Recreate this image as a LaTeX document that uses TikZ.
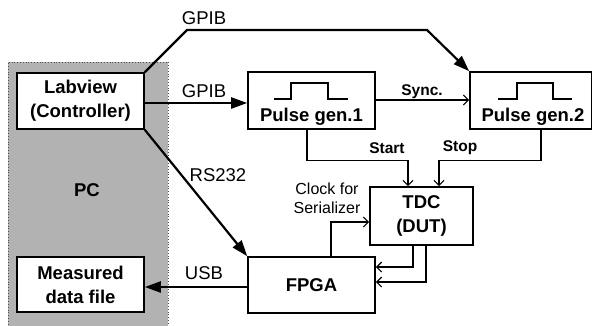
\documentclass[tikz,border=0pt]{standalone}
\usepackage{fontspec}
\setmainfont{Liberation Sans}
\usetikzlibrary{arrows.meta,calc}
\begin{document}
\begin{tikzpicture}[x=1pt,y=-1pt,
  box/.style={draw=black,line width=1.6pt,fill=white,rectangle,inner sep=0pt,align=center,
    font=\bfseries\fontsize{18.5}{24}\selectfont},
  thickarrow/.style={line width=2.2pt,-{Triangle[length=16pt,width=11pt]}},
  thinarrow/.style={line width=1.2pt,-{Straight Barb[length=5pt,width=10pt,line width=1.2pt]}},
  biglbl/.style={font=\fontsize{18.5}{22}\selectfont,inner sep=0pt},
  smalllbl/.style={font=\bfseries\fontsize{15.5}{19}\selectfont,inner sep=0pt},
  pulse/.style={line width=1.6pt},
]
\useasboundingbox (0,0) rectangle (593,325);
% PC area
\node[draw=black!70,dotted,line width=0.8pt,fill=black!30,rectangle,inner sep=0pt,
  minimum width=160pt,minimum height=264pt] (pc) at (88,194) {};
\node[font=\bfseries\fontsize{18.5}{22}\selectfont,inner sep=0pt] (pclbl) at (87,190) {PC};
% boxes
\node[box,minimum width=127pt,minimum height=56pt] (lab) at (80.5,101) {Labview\\(Controller)};
\node[box,minimum width=127pt,minimum height=55pt] (meas) at (80.5,284.5) {Measured\\data file};
\node[box,minimum width=127pt,minimum height=57pt] (pg1) at (311.5,100.5) {};
\node[box,minimum width=121.5pt,minimum height=57pt] (pg2) at (530.75,100.5) {};
\node[box,minimum width=103pt,minimum height=58pt] (tdc) at (421.5,216) {TDC\\(DUT)};
\node[box,minimum width=127pt,minimum height=56pt] (fpga) at (311.5,285) {FPGA};
% pulse gen texts and icons
\node[font=\bfseries\fontsize{18.5}{22}\selectfont,inner sep=0pt] (pg1t) at (311.5,117) {Pulse gen.1};
\node[font=\bfseries\fontsize{18.5}{22}\selectfont,inner sep=0pt] (pg2t) at (533,117) {Pulse gen.2};
\draw[pulse] (274,99) -- (291,99) -- (291,83) -- (328,83) -- (328,99) -- (348,99);
\draw[pulse] (498,99) -- (517,99) -- (517,83) -- (553,83) -- (553,99) -- (572,99);
% connectors
\coordinate (g1) at (187,30);
\coordinate (g2) at (427,30);
\draw[thickarrow,line join=miter] (lab.north east) -- (g1) -- (g2) -- (pg2.north west);
\draw[thickarrow] ([yshift=-2pt]lab.east) -- ([yshift=-2pt]lab.east -| pg1.west);
\draw[thickarrow] (lab.south east) -- (fpga.north west);
\draw[thickarrow] ([yshift=-2pt]fpga.west) -- ([yshift=-2pt]fpga.west -| meas.east);
\draw[thinarrow] ([yshift=0.5pt]pg1.east) -- ([yshift=0.5pt]pg1.east -| pg2.west);
\draw[thinarrow] ([xshift=-4.5pt]pg1.south) |- ([xshift=-13.5pt,yshift=26pt]tdc.north) -- ([xshift=-13.5pt]tdc.north);
\draw[thinarrow] ([xshift=10.25pt]pg2.south) |- ([xshift=17.5pt,yshift=26pt]tdc.north) -- ([xshift=17.5pt]tdc.north);
\draw[thinarrow] ([xshift=19.5pt]fpga.north) |- ([yshift=-6pt]tdc.west);
\draw[thinarrow] ([xshift=-8.5pt]tdc.south) |- ([yshift=18pt]fpga.east);
\draw[thinarrow] ([xshift=4.5pt]tdc.south) |- ([yshift=3pt]fpga.east);
% labels
\node[biglbl] (l1) at (204,18) {GPIB};
\node[biglbl] (l2) at (204,91) {GPIB};
\node[biglbl] (l3) at (218,175) {RS232};
\node[biglbl] (l4) at (204,273) {USB};
\node[smalllbl] (l5) at (422,92) {Sync.};
\node[smalllbl] (l6) at (387,148) {Start};
\node[smalllbl] (l7) at (460,148) {Stop};
\node[font=\fontsize{16}{19}\selectfont,inner sep=0pt,align=center] (l8) at (327,198) {Clock for\\Serializer};
\end{tikzpicture}
\end{document}
